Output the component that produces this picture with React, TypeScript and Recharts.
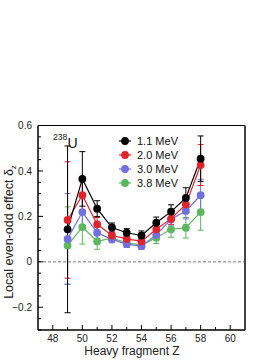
import React from 'react';
import { ComposedChart, Line, XAxis, YAxis, ErrorBar, ReferenceLine, Legend } from 'recharts';

const zValues = [49, 50, 51, 52, 53, 54, 55, 56, 57, 58];
const v11 = [0.143, 0.365, 0.234, 0.151, 0.128, 0.116, 0.172, 0.221, 0.281, 0.454];
const e11 = [0.367, 0.12, 0.035, 0.02, 0.018, 0.02, 0.025, 0.03, 0.045, 0.1];
const v20 = [0.184, 0.293, 0.165, 0.116, 0.101, 0.09, 0.143, 0.19, 0.253, 0.426];
const e20 = [0.256, 0.075, 0.03, 0.015, 0.015, 0.015, 0.02, 0.025, 0.03, 0.09];
const v30 = [0.101, 0.219, 0.128, 0.099, 0.078, 0.069, 0.119, 0.187, 0.224, 0.293];
const e30 = [0.2, 0.07, 0.025, 0.015, 0.015, 0.015, 0.02, 0.025, 0.035, 0.07];
const v38 = [0.072, 0.153, 0.09, 0.104, 0.084, 0.074, 0.106, 0.143, 0.15, 0.219];
const e38 = [0.17, 0.075, 0.035, 0.015, 0.02, 0.015, 0.025, 0.035, 0.045, 0.08];

const seriesNames = ['1.1 MeV', '2.0 MeV', '3.0 MeV', '3.8 MeV'];
const seriesKeys = ['s11', 's20', 's30', 's38'];
const errKeys = ['e11', 'e20', 'e30', 'e38'];
const seriesColors = ['#000000', '#e3232b', '#7070e0', '#5cb85c'];

const xTicks = [48, 49, 50, 51, 52, 53, 54, 55, 56, 57, 58, 59, 60];
const xLabeled = [48, 50, 52, 54, 56, 58, 60];
const yTicks = [-0.3, -0.25, -0.2, -0.15, -0.1, -0.05, 0, 0.05, 0.1, 0.15, 0.2, 0.25, 0.3, 0.35, 0.4, 0.45, 0.5, 0.55, 0.6];
const yLabeled = [-0.2, 0, 0.2, 0.4, 0.6];

const data = zValues.map((z, i) => ({
  z,
  s11: v11[i], e11: e11[i],
  s20: v20[i], e20: e20[i],
  s30: v30[i], e30: e30[i],
  s38: v38[i], e38: e38[i],
}));

const FONT = '"Liberation Sans", Arial, Helvetica, sans-serif';

const XTick = (props: any) => {
  const { x, y, payload } = props;
  const v = payload.value;
  const major = xLabeled.includes(v);
  return (
    <g>
      <line x1={x} x2={x} y1={y} y2={y - (major ? 5 : 3)} stroke="#000" strokeWidth={1} />
      {major && (
        <text x={x} y={y + 11.5} textAnchor="middle" fontSize={10} fontFamily={FONT} fill="#222">{v}</text>
      )}
    </g>
  );
};

const YTick = (props: any) => {
  const { x, y, payload } = props;
  const v = payload.value;
  const major = yLabeled.some((t) => Math.abs(t - v) < 1e-6);
  const label = v < 0 ? '\u2212' + Math.abs(v).toString() : v === 0 ? '0' : v.toString();
  return (
    <g>
      <line x1={x} x2={x + (major ? 5 : 3)} y1={y} y2={y} stroke="#000" strokeWidth={1} />
      {major && (
        <text x={x - 6} y={y + 3.6} textAnchor="end" fontSize={10} fontFamily={FONT} fill="#222">{label}</text>
      )}
    </g>
  );
};

const LegendContent = () => (
  <svg width={80} height={60} style={{ display: 'block', overflow: 'visible' }}>
    {seriesNames.map((n, i) => (
      <g key={n}>
        <line x1={4} x2={16} y1={8 + i * 14} y2={8 + i * 14} stroke={seriesColors[i]} strokeWidth={1.2} />
        <circle cx={10} cy={8 + i * 14} r={3.9} fill={seriesColors[i]} />
        <text x={22} y={12 + i * 14} fontSize={11} fontFamily={FONT} fill="#111">{n}</text>
      </g>
    ))}
  </svg>
);

const drawOrder = [3, 2, 1, 0];

export default function App() {
  return (
    <div style={{ position: 'absolute', left: 0, top: 0, width: 278, height: 360, background: '#fff' }}>
      <ComposedChart width={278} height={360} data={data} margin={{ top: 125.5, right: 33, bottom: 0, left: 0 }}>
        <XAxis
          dataKey="z"
          type="number"
          domain={[47, 61]}
          ticks={xTicks}
          interval={0}
          tickSize={0}
          tickMargin={0}
          tickLine={false}
          tick={<XTick />}
          height={30}
          axisLine={{ stroke: '#000', strokeWidth: 1.5 }}
          label={{
            content: () => (
              <text x={132} y={355} textAnchor="middle" fontSize={12} fontFamily={FONT} fill="#222">Heavy fragment Z</text>
            ),
          }}
        />
        <YAxis
          type="number"
          domain={[-0.3, 0.6]}
          ticks={yTicks}
          interval={0}
          tickSize={0}
          tickMargin={0}
          tickLine={false}
          tick={<YTick />}
          width={38}
          allowDataOverflow
          axisLine={{ stroke: '#000', strokeWidth: 1.5 }}
          label={{
            content: () => (
              <text transform="translate(13,232) rotate(-90)" textAnchor="middle" fontSize={12.5} fontFamily={FONT} fill="#222">
                Local even-odd effect δ<tspan fontSize={8} dy={3}>z</tspan>
              </text>
            ),
          }}
        />
        <ReferenceLine y={0.6} stroke="#000" strokeWidth={1} />
        <ReferenceLine x={61} stroke="#444" strokeWidth={2} />
        <ReferenceLine y={0} stroke="#555" strokeWidth={0.8} strokeDasharray="3 2" />
        <Legend
          layout="vertical"
          align="center"
          verticalAlign="middle"
          wrapperStyle={{ left: 115, top: 133, width: 80, height: 60 }}
          content={<LegendContent />}
        />
        {drawOrder.map((i) => (
          <Line
            key={seriesKeys[i]}
            dataKey={seriesKeys[i]}
            name={seriesNames[i]}
            stroke={seriesColors[i]}
            strokeWidth={1.2}
            dot={{ r: 3.9, fill: seriesColors[i], stroke: seriesColors[i], strokeWidth: 0 }}
            isAnimationActive={false}
            legendType="circle"
          >
            <ErrorBar dataKey={errKeys[i]} direction="y" width={3} stroke={seriesColors[i]} strokeWidth={1} isAnimationActive={false} />
          </Line>
        ))}
      </ComposedChart>
      <svg width={40} height={30} style={{ position: 'absolute', left: 50, top: 128, overflow: 'visible' }}>
        <text x={3} y={12} fontSize={8.5} fontFamily={FONT} fill="#111">238</text>
        <text x={17.5} y={20} fontSize={14} fontFamily={FONT} fill="#111">U</text>
      </svg>
    </div>
  );
}
